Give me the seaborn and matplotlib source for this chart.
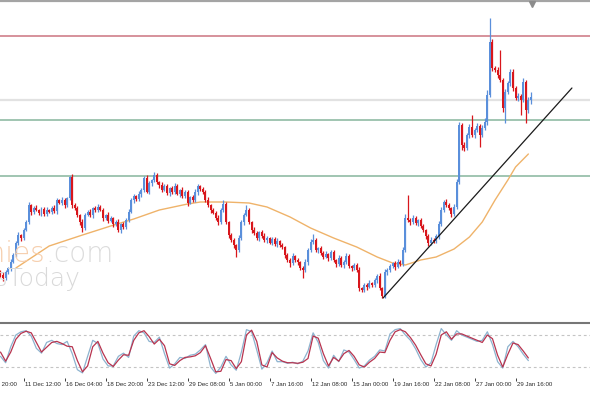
import matplotlib
matplotlib.use("Agg")
import numpy as np
import pandas as pd
import seaborn as sns
import matplotlib.pyplot as plt
from matplotlib.lines import Line2D
from matplotlib import transforms
from matplotlib import font_manager as fm

# ---------------- data (price units, H4 bars) ----------------
first_open = 58
close = [55, 52, 58, 62, 68, 75, 87, 95, 92, 100,
         108, 125, 118, 122, 120, 117, 121, 116, 120, 118,
         122, 119, 130, 127, 130, 125, 132, 153, 125, 122,
         115, 108, 102, 115, 118, 115, 122, 120, 123, 120,
         112, 115, 109, 112, 106, 108, 100, 106, 103, 110,
         118, 130, 134, 131, 136, 140, 152, 138, 147, 150,
         155, 148, 145, 140, 144, 137, 142, 138, 144, 136,
         140, 134, 138, 127, 133, 130, 138, 144, 141, 138,
         130, 125, 120, 117, 112, 108, 120, 126, 108, 95,
         90, 85, 80, 92, 108, 115, 120, 108, 100, 97,
         92, 98, 94, 90, 92, 87, 91, 86, 89, 85,
         83, 75, 70, 67, 74, 70, 68, 62, 60, 68,
         80, 88, 90, 80, 82, 77, 73, 76, 72, 78,
         70, 66, 72, 65, 68, 74, 64, 62, 65, 60,
         42, 40, 45, 43, 47, 45, 50, 54, 42, 34,
         58, 60, 64, 67, 63, 68, 66, 80, 112, 110,
         108, 112, 107, 110, 104, 100, 94, 87, 90, 89,
         94, 106, 120, 128, 125, 122, 116, 123, 148, 205,
         185, 182, 195, 203, 195, 200, 204, 195, 202, 208,
         235, 288, 262, 260, 255, 250, 222, 238, 247, 258,
         242, 232, 234, 230, 248, 220, 230, 233]
wick_up = [2, 3, 2, 1, 3, 2, 2, 3, 1, 2,
           2, 3, 1, 2, 3, 1, 2, 2, 3, 1,
           2, 3, 2, 1, 3, 2, 1, 1, 3, 2,
           2, 1, 3, 2, 2, 3, 1, 2, 3, 2,
           2, 1, 3, 2, 1, 2, 3, 1, 2, 2,
           3, 2, 2, 1, 3, 2, 2, 3, 2, 1,
           3, 2, 1, 3, 2, 2, 1, 2, 3, 2,
           1, 3, 2, 2, 1, 2, 3, 2, 1, 2,
           2, 3, 1, 2, 2, 3, 2, 4, 2, 1,
           2, 2, 1, 3, 2, 2, 5, 2, 1, 3,
           2, 1, 2, 3, 2, 1, 2, 2, 3, 1,
           2, 1, 2, 2, 3, 1, 2, 1, 2, 3,
           2, 3, 6, 2, 1, 2, 2, 3, 1, 2,
           2, 1, 3, 2, 2, 3, 2, 1, 2, 2,
           3, 1, 2, 2, 3, 1, 2, 2, 3, 1,
           3, 2, 2, 1, 2, 3, 2, 3, 4, 23,
           2, 3, 2, 1, 2, 2, 1, 2, 3, 2,
           2, 3, 3, 2, 3, 2, 1, 3, 3, 3,
           2, 3, 2, 3, 12, 2, 3, 2, 3, 4,
           5, 24, 3, 2, 3, 25, 2, 3, 2, 3,
           3, 2, 3, 2, 4, 2, 3, 5]
wick_dn = [2, 3, 2, 2, 3, 1, 2, 2, 3, 2,
           1, 2, 3, 2, 1, 2, 3, 2, 2, 1,
           2, 2, 3, 1, 2, 3, 2, 2, 3, 2,
           2, 3, 4, 2, 1, 2, 3, 2, 2, 1,
           3, 2, 2, 1, 3, 2, 2, 3, 2, 2,
           2, 1, 3, 2, 2, 3, 2, 1, 2, 3,
           2, 2, 3, 2, 1, 2, 3, 2, 2, 1,
           3, 2, 2, 3, 1, 2, 2, 3, 2, 2,
           2, 2, 3, 1, 2, 3, 2, 2, 2, 3,
           2, 3, 7, 2, 2, 3, 1, 2, 3, 2,
           2, 3, 2, 2, 3, 1, 2, 2, 3, 2,
           2, 3, 2, 4, 2, 2, 3, 2, 8, 2,
           3, 2, 2, 2, 3, 2, 2, 1, 3, 2,
           2, 3, 2, 2, 3, 2, 2, 3, 2, 2,
           3, 2, 2, 3, 1, 2, 2, 3, 2, 2,
           2, 3, 2, 2, 3, 1, 2, 2, 2, 2,
           3, 2, 2, 3, 2, 2, 3, 3, 2, 2,
           2, 3, 2, 2, 2, 2, 3, 2, 2, 2,
           5, 3, 2, 3, 2, 3, 2, 12, 2, 2,
           3, 2, 3, 2, 3, 2, 4, 15, 2, 3,
           3, 2, 3, 15, 2, 13, 3, 4]

# moving average (bar index, value)
ma_bar = [6, 19, 32, 43, 52, 62, 73, 78, 88, 97, 104, 113, 121, 130, 139,
          147, 153, 158, 164, 170, 177, 183, 188, 193, 198, 201, 206]
ma_val = [62, 84, 95, 104, 111, 120, 126, 128, 128, 127, 123, 113, 102, 92, 83,
          73, 67, 65, 70, 73, 81, 93, 108, 130, 150, 163, 176]

# stochastic oscillator, every second bar
stoch_k = [40, 28, 58, 80, 86, 88, 78, 55, 46, 66, 70, 64, 62, 68, 45, 15, 9, 40, 70, 64,
           35, 22, 22, 40, 46, 38, 78, 88, 84, 68, 66, 76, 45, 18, 26, 38, 36, 42, 44, 52,
           62, 20, 8, 20, 40, 24, 14, 48, 90, 86, 52, 16, 28, 50, 30, 30, 27, 29, 26, 31,
           50, 84, 66, 32, 18, 42, 30, 52, 48, 34, 18, 22, 33, 40, 52, 50, 82, 90, 92, 80,
           70, 54, 34, 20, 28, 62, 92, 80, 70, 88, 80, 76, 72, 68, 70, 86, 62, 30, 18, 58,
           68, 58, 44, 32]
stoch_d = [48, 31, 48, 72, 83, 87, 84, 66, 48, 57, 66, 68, 64, 59, 58, 32, 11, 22, 58, 68,
           46, 28, 21, 33, 43, 42, 70, 84, 88, 77, 63, 72, 60, 26, 23, 32, 38, 39, 41, 47,
           60, 36, 11, 12, 34, 32, 17, 30, 80, 89, 68, 24, 20, 47, 37, 31, 28, 28, 27, 29,
           36, 78, 74, 45, 22, 38, 31, 45, 51, 40, 24, 20, 29, 36, 48, 47, 70, 86, 90, 86,
           75, 61, 43, 26, 22, 44, 80, 86, 72, 82, 82, 78, 74, 70, 66, 80, 73, 42, 20, 44,
           65, 62, 50, 37]
stoch_levels = [80, 20]

# horizontal levels and trend line
level_red = 294
level_grey = 230
level_green = [210, 154]
trend_bars = [149.3, 223.0]
trend_vals = [32, 242]

tick_labels = ["8 Dec 20:00", "11 Dec 12:00", "16 Dec 04:00", "18 Dec 20:00",
               "23 Dec 12:00", "29 Dec 08:00", "5 Jan 00:00", "7 Jan 16:00",
               "12 Jan 08:00", "15 Jan 00:00", "19 Jan 16:00", "22 Jan 08:00",
               "27 Jan 00:00", "29 Jan 16:00"]
tick_bars = [-7, 9, 25, 41, 57, 73, 89, 105, 121, 137, 153, 169, 185, 201]

# ---------------- styling ----------------
sns.set_theme(style="white")
names = {f.name for f in fm.fontManager.ttflist}
lab_font = "Liberation Sans Narrow" if "Liberation Sans Narrow" in names else "Liberation Sans"
plt.rcParams["font.family"] = ["DejaVu Sans"]

BULL = "#5a8fdb"
BEAR = "#d8161c"

W, H = 590, 393
fig = plt.figure(figsize=(W / 100, H / 100), dpi=100)
fig.patch.set_facecolor("white")

XL = (-0.195, 230.05)

ax = fig.add_axes([0, 71 / H, 1, 319 / H])

df = pd.DataFrame({"close": close})
df["open"] = [first_open] + close[:-1]
df["high"] = np.maximum(df["open"], df["close"]) + np.array(wick_up)
df["low"] = np.minimum(df["open"], df["close"]) - np.array(wick_dn)
df["bar"] = np.arange(len(df))
bull = df["close"] >= df["open"]
colors = np.where(bull, BULL, BEAR)

# watermark
fig.text(45 / W, 1 - 262 / H, "economies", ha="right", va="baseline",
         fontsize=20, color="#f6cfae", fontweight="light", zorder=0)
fig.text(45 / W, 1 - 262 / H, ".com", ha="left", va="baseline",
         fontsize=20, color="#dcdcdc", fontweight="light", zorder=0)
fig.text(80 / W, 1 - 286 / H, "NewsToday", ha="right", va="baseline",
         fontsize=18, color="#d9d9d9", fontweight="light", zorder=0)

# horizontal levels
ax.axhline(level_red, color="#cf7f8a", lw=1.2, zorder=1)
ax.axhline(level_grey, color="#e2e2e2", lw=1.6, zorder=1)
for lv in level_green:
    ax.axhline(lv, color="#86b59d", lw=1.1, zorder=1)

# candles
ax.vlines(df["bar"], df["low"], df["high"], colors=colors, lw=0.9, zorder=3)
body_h = np.maximum((df["close"] - df["open"]).abs(), 0.9)
ax.bar(df["bar"], body_h, bottom=np.minimum(df["open"], df["close"]),
       width=0.78, color=colors, linewidth=0, zorder=4)

# moving average
sns.lineplot(x=ma_bar, y=ma_val, ax=ax, color="#efb36a", lw=1.0, zorder=2)
# trend line
sns.lineplot(x=trend_bars, y=trend_vals, ax=ax, color="#1a1a1a", lw=0.9, zorder=5)
ax.set_xlim(*XL)
ax.set_ylim(8, 327)
ax.axis("off")

# ---------------- stochastic panel ----------------
ax2 = fig.add_axes([0, 15.3 / H, 1, 53.4 / H])
sb = np.arange(0, 2 * len(stoch_d), 2)
for lv in stoch_levels:
    ax2.axhline(lv, color="#c4c4c4", lw=0.8, ls=(0, (2.5, 2.5)))
sns.lineplot(x=sb, y=stoch_k, ax=ax2, color="#8db3cf", lw=0.9)
sns.lineplot(x=sb, y=stoch_d, ax=ax2, color="#b8344f", lw=0.9)
ax2.set_xlim(*XL)
ax2.set_ylim(0, 100)
for s in ax2.spines.values():
    s.set_visible(False)
ax2.set_yticks([])
ax2.set_xticks([b for b in tick_bars if XL[0] <= b <= XL[1]])
ax2.set_xticklabels([])
ax2.tick_params(axis="x", direction="out", length=2.4, width=0.7,
                color="#404040", bottom=True, pad=0)
ax2.set_xlabel("")
ax2.set_ylabel("")

trans = transforms.blended_transform_factory(ax2.transData, fig.transFigure)
offs = transforms.ScaledTranslation(1.5 / 100, 0, fig.dpi_scale_trans)
for b, lab in zip(tick_bars, tick_labels):
    ax2.text(b, 1 - 384 / H, lab, transform=trans + offs, ha="left", va="center",
             fontsize=4.4, color="#2a2a2a", family=lab_font, clip_on=False)

# chart frame lines
fig.add_artist(Line2D([0, 1], [1 - 1.3 / H] * 2, transform=fig.transFigure,
                      color="#a4a4a4", lw=1.6))
fig.add_artist(Line2D([0, 1], [1 - 323 / H] * 2, transform=fig.transFigure,
                      color="#767676", lw=1.5))
fig.add_artist(Line2D([532 / W], [1 - 4 / H], transform=fig.transFigure,
                      marker="v", markersize=4, color="#8c8c8c", lw=0))

fig.savefig("out.png", dpi=100, facecolor="white")
